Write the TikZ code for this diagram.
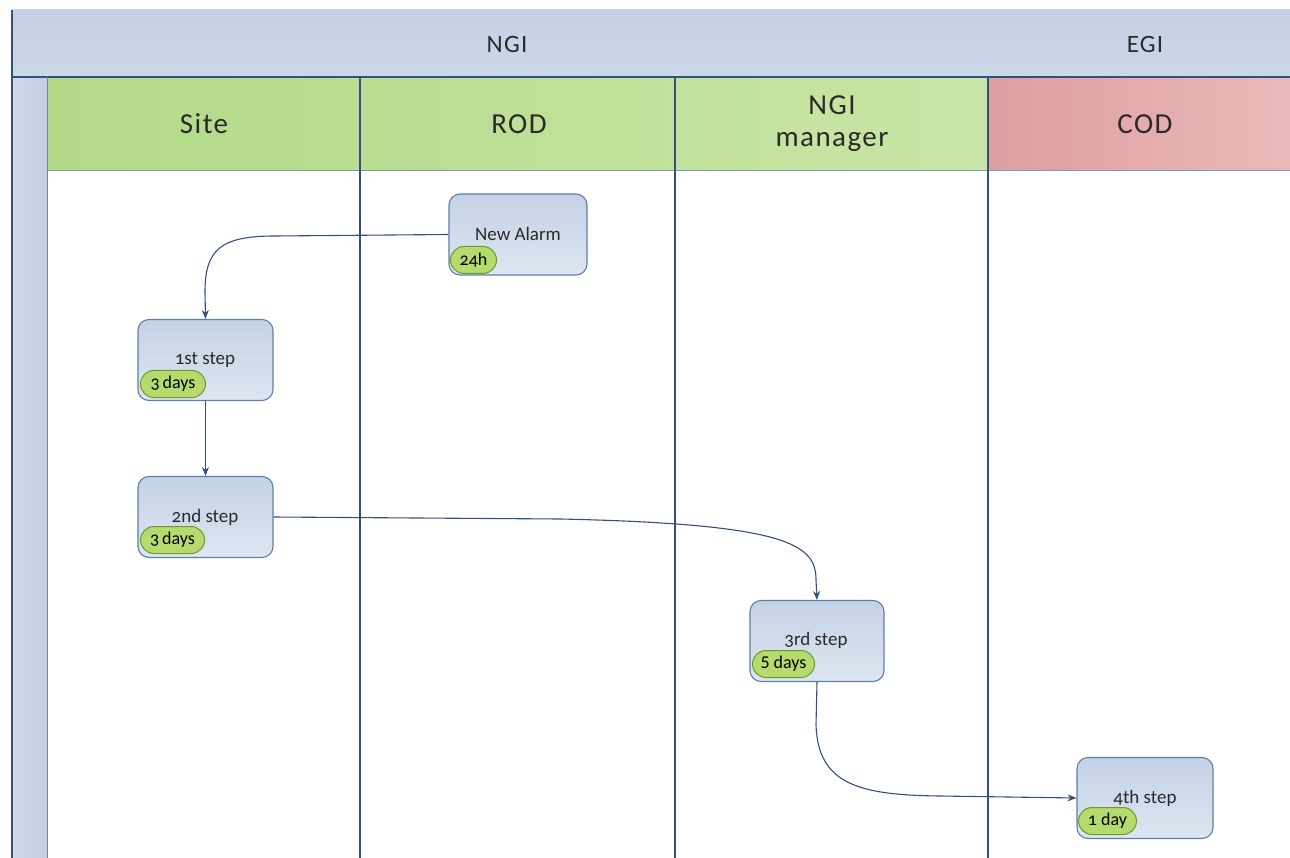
\documentclass[tikz,border=0pt]{standalone}
\usepackage{fontspec}
\setmainfont[Numbers=OldStyle]{Carlito}
\newfontfamily\hdrfont[LetterSpace=5]{Carlito}
\usetikzlibrary{arrows.meta,shapes.misc}
\definecolor{hdrblue}{HTML}{C2D0E2}
\definecolor{hdrblue2}{HTML}{CBD8E8}
\definecolor{edge}{HTML}{34507E}
\definecolor{greenA}{HTML}{B2D987}
\definecolor{greenB}{HTML}{C8E6A6}
\definecolor{redA}{HTML}{DE9E9F}
\definecolor{redB}{HTML}{EAB9B9}
\definecolor{boxtop}{HTML}{C3D2E5}
\definecolor{boxbot}{HTML}{DDE6F1}
\definecolor{boxline}{HTML}{5F7EAA}
\definecolor{badgefill}{HTML}{B5DA6E}
\definecolor{badgeline}{HTML}{6E9A2E}
\definecolor{txt}{HTML}{2A2A2A}
\tikzset{
  toptext/.style={font=\hdrfont\fontsize{25}{28}\selectfont, text=txt, align=center},
  lanetext/.style={font=\hdrfont\fontsize{29}{35}\selectfont, text=txt, align=center},
  stepbox/.style={draw=boxline, line width=1.1pt, rounded corners=11pt, top color=boxtop, bottom color=boxbot, minimum width=135pt, minimum height=81pt, inner sep=0pt},
  steptext/.style={font=\fontsize{19}{22}\selectfont, text=txt},
  badge/.style={draw=badgeline, line width=1pt, fill=badgefill, rounded rectangle, inner xsep=1pt, inner ysep=1pt, minimum height=27pt, font=\fontsize{18}{21}\selectfont, text=black, anchor=west},
  conn/.style={draw=edge, line width=1.1pt},
  arr/.style={conn, -{Stealth[length=9pt,width=7pt]}},
  sep/.style={draw=edge, line width=1.1pt}
}
\begin{document}
\begin{tikzpicture}[x=1pt,y=-1pt]
\useasboundingbox (0,0) rectangle (1290,858);
% top header band
\shade[top color=hdrblue, bottom color=hdrblue2] (12,10) rectangle (1290,77);
% left strip
\shade[left color=hdrblue2, right color=hdrblue] (12,77) rectangle (47,858);
% lane headers
\shade[left color=greenA, right color=greenB] (47,78) rectangle (988,170);
\shade[left color=redA, right color=redB] (988,78) rectangle (1290,170);
% lines
\draw[sep] (12,10) -- (12,858);
\draw[sep] (12,77) -- (1290,77);
\draw[draw=edge!70, line width=0.8pt] (47,77) -- (47,858);
\draw[draw=edge!60, line width=0.8pt] (47,170) -- (1290,170);
\draw[sep] (360,77) -- (360,858);
\draw[sep] (675,77) -- (675,858);
\draw[sep] (988,77) -- (988,858);
% header texts
\node[toptext] (ngi) at (507,44) {NGI};
\node[toptext] (egi) at (1145,44) {EGI};
\node[lanetext] (site) at (204,124) {Site};
\node[lanetext] (rod) at (519,124) {ROD};
\node[lanetext] (mgr) at (832,105) {NGI};
\node[lanetext] (mgr2) at (832,142) {manager};
\node[lanetext] (cod) at (1145,124) {COD};
% step boxes
\node[stepbox, minimum width=138pt] (alarm) at (518,234.5) {};
\node[steptext] at (518,234) {New Alarm};
\node[badge, minimum width=48pt] (b0) at (450,260) {24h};

\node[stepbox] (s1) at (205.5,360) {};
\node[steptext] at (205,360) {1st step};
\node[badge, minimum width=67pt] (b1) at (140,384) {3\,days};

\node[stepbox] (s2) at (205.5,517) {};
\node[steptext] at (205,517) {2nd step};
\node[badge, minimum width=66pt] (b2) at (140,540) {3\,days};

\node[stepbox, minimum width=134pt] (s3) at (817,641) {};
\node[steptext] at (816,640) {3rd step};
\node[badge, minimum width=64pt] (b3) at (752,664) {\addfontfeature{Numbers=Lining}5 days};

\node[stepbox, minimum width=136pt] (s4) at (1145,798) {};
\node[steptext] at (1145,798) {4th step};
\node[badge, minimum width=60pt] (b4) at (1078,821) {1 day};
% connectors
\draw[arr] (alarm.west) -- (275,236) .. controls (220,236) and (205,250) .. (205,292) -- (s1.north);
\draw[arr] (s1.south) -- (s2.north);
\draw[arr] (s2.east) -- (560,519) .. controls (790,524) and (816,545) .. (816,580) -- (s3.north);
\draw[arr] (s3.south) -- (816,725) .. controls (818,785) and (860,795) .. (940,796) -- (s4.west);
\end{tikzpicture}
\end{document}
